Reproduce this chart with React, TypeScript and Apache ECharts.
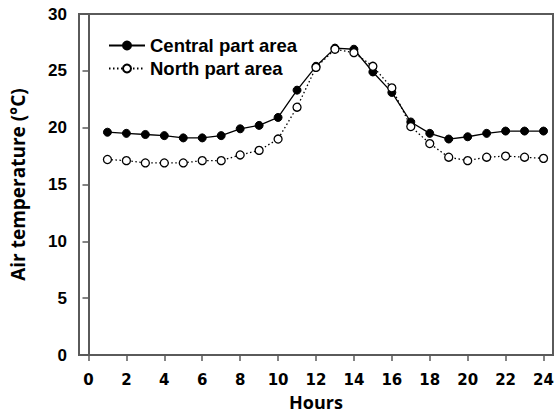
import React, { useEffect, useRef } from "react";
import * as echarts from "echarts";

const hours = [1, 2, 3, 4, 5, 6, 7, 8, 9, 10, 11, 12, 13, 14, 15, 16, 17, 18, 19, 20, 21, 22, 23, 24];
const central = [19.6, 19.5, 19.4, 19.3, 19.1, 19.1, 19.3, 19.9, 20.2, 20.9, 23.3, 25.4, 27.0, 26.9, 24.9, 23.1, 20.5, 19.5, 19.0, 19.2, 19.5, 19.7, 19.7, 19.7];
const north = [17.2, 17.1, 16.9, 16.9, 16.9, 17.1, 17.1, 17.6, 18.0, 19.0, 21.8, 25.3, 26.9, 26.6, 25.4, 23.5, 20.1, 18.6, 17.4, 17.1, 17.4, 17.5, 17.4, 17.3];
const xTicks = [0, 2, 4, 6, 8, 10, 12, 14, 16, 18, 20, 22, 24];
const seriesNames = ["Central part area", "North part area"];

export default function App() {
  const ref = useRef<HTMLDivElement>(null);
  useEffect(() => {
    if (!ref.current) return;
    const chart = echarts.init(ref.current, undefined, { renderer: "svg" });
    const axisColor = "#5a5a5a";
    chart.setOption({
      animation: false,
      backgroundColor: "#ffffff",
      grid: {
        left: 79,
        right: 4,
        top: 14,
        bottom: 60,
        show: true,
        borderColor: axisColor,
        borderWidth: 2,
        containLabel: false,
        outerBoundsMode: "none",
      },
      legend: {
        left: 108,
        top: 36,
        padding: 0,
        orient: "vertical",
        itemWidth: 36,
        itemHeight: 10,
        itemGap: 4,
        data: seriesNames,
        textStyle: {
          fontFamily: "Liberation Sans",
          fontWeight: "bold",
          fontSize: 18.5,
          color: "#000",
        },
      },
      xAxis: {
        type: "value",
        min: -0.5,
        max: 24.5,
        name: "Hours",
        nameLocation: "middle",
        nameGap: 38,
        nameTextStyle: { fontFamily: "Open Sans", fontWeight: "bold", fontSize: 18, color: "#000" },
        axisLine: { show: true, onZero: false, lineStyle: { color: axisColor, width: 2 } },
        axisTick: { show: true, length: 6, customValues: xTicks, lineStyle: { color: axisColor, width: 1.5 } },
        axisLabel: {
          customValues: xTicks,
          margin: 17,
          fontFamily: "DejaVu Sans",
          fontWeight: "bold",
          fontSize: 15,
          color: "#000",
        },
        splitLine: { show: false },
      },
      yAxis: {
        type: "value",
        min: 0,
        max: 30,
        interval: 5,
        name: "Air temperature (°C)",
        nameLocation: "middle",
        nameGap: 52,
        nameTextStyle: { fontFamily: "Open Sans", fontWeight: "bold", fontSize: 19, color: "#000" },
        axisLine: { show: true, lineStyle: { color: axisColor, width: 2 } },
        axisTick: { show: true, length: 6, lineStyle: { color: axisColor, width: 1.5 } },
        axisLabel: {
          margin: 12,
          fontFamily: "Liberation Sans",
          fontWeight: "bold",
          fontSize: 17,
          color: "#000",
        },
        splitLine: { show: false },
      },
      series: [
        {
          name: seriesNames[0],
          type: "line",
          data: hours.map((h, i) => [h, central[i]]),
          symbol: "circle",
          symbolSize: 8,
          lineStyle: { color: "#000", width: 1.3, type: "solid" },
          itemStyle: { color: "#000", borderColor: "#000", borderWidth: 1 },
        },
        {
          name: seriesNames[1],
          type: "line",
          data: hours.map((h, i) => [h, north[i]]),
          symbol: "circle",
          symbolSize: 8,
          lineStyle: { color: "#000", width: 1.3, type: [1.5, 2.5] },
          itemStyle: { color: "#fff", borderColor: "#000", borderWidth: 1.3 },
        },
      ],
    });
    return () => chart.dispose();
  }, []);
  return (
    <div
      ref={ref}
      style={{ position: "fixed", left: 0, top: 0, width: 557, height: 415, background: "#fff" }}
    />
  );
}
